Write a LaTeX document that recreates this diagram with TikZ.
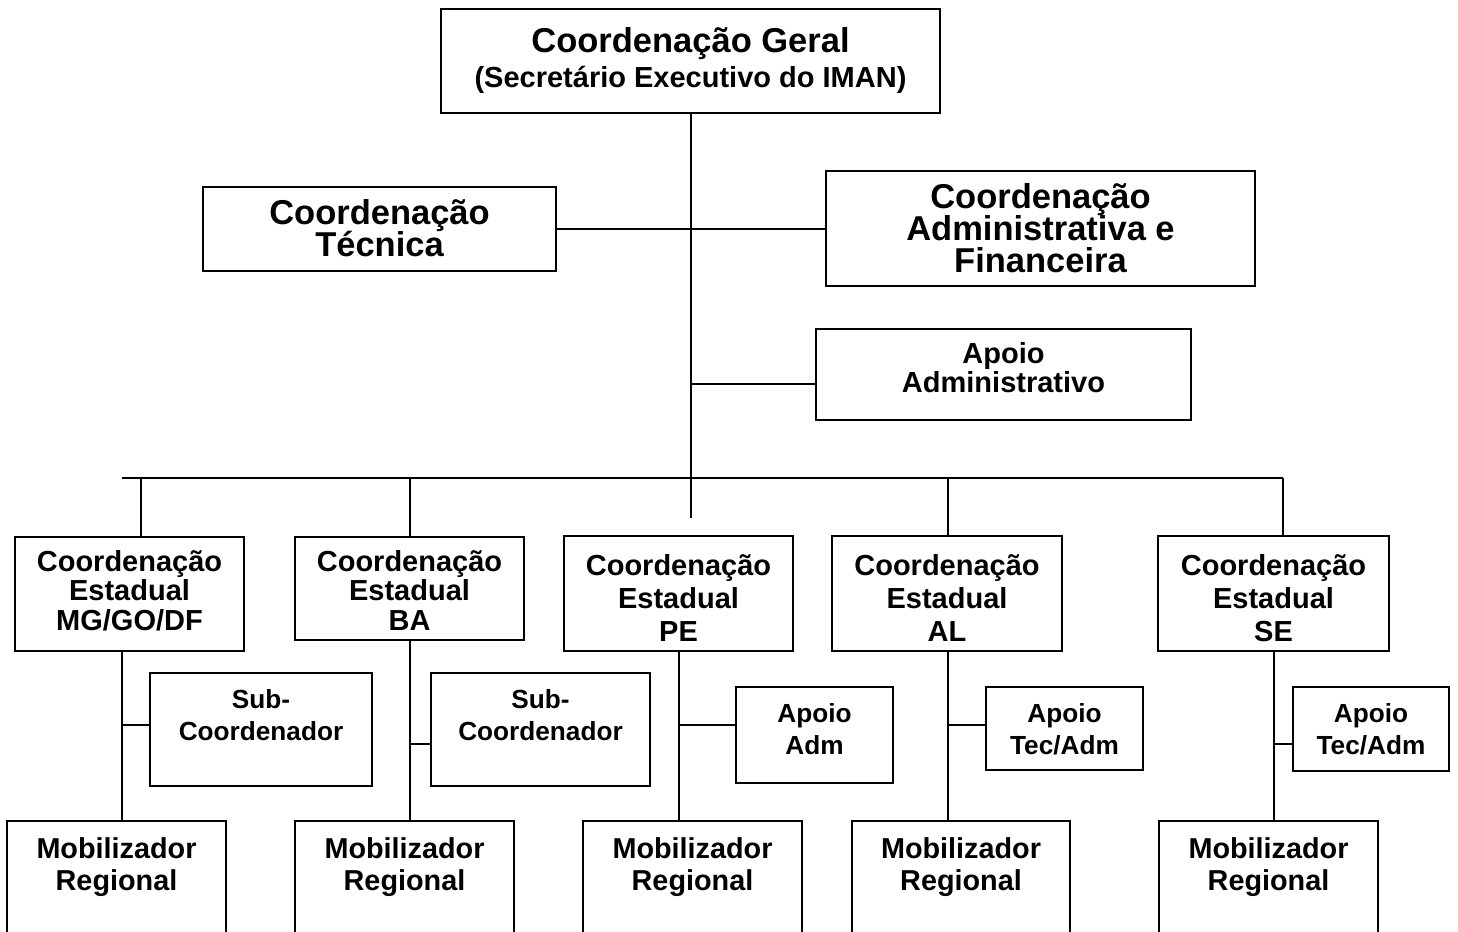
\documentclass[tikz,border=0pt]{standalone}
\usepackage{fontspec}
\setmainfont{Liberation Sans}
\begin{document}
\begin{tikzpicture}[x=1pt,y=-1pt,
  box/.style={draw=black,line width=2pt,inner sep=0pt,outer sep=0pt,rectangle},
  conn/.style={draw=black,line width=1.6pt},
  tl/.style={anchor=base,inner sep=0pt,text=black},
  fbig/.style={font={\fontsize{34.5}{40}\selectfont\bfseries}},
  fmid/.style={font={\fontsize{29}{34}\selectfont\bfseries}},
  fmob/.style={font={\fontsize{28.8}{34}\selectfont\bfseries}},
  fsml/.style={font={\fontsize{26.2}{30}\selectfont\bfseries}}]
\useasboundingbox (0,0) rectangle (1458,931);
\newcommand\mkbox[5]{\node[box,anchor=north west,minimum width={(#4-#2)*1pt},minimum height={(#5-#3)*1pt}] (#1) at (#2,#3) {};}
% boxes
\mkbox{top}{441}{9}{940}{113}
\mkbox{ct}{203}{187}{556}{271}
\mkbox{caf}{826}{171}{1255}{286}
\mkbox{aa}{816}{329}{1191}{420}
\mkbox{mg}{15}{537}{244}{651}
\mkbox{ba}{295}{537}{524}{640}
\mkbox{pe}{564}{536}{793}{651}
\mkbox{al}{832}{536}{1062}{651}
\mkbox{se}{1158}{536}{1389}{651}
\mkbox{sa}{150}{673}{372}{786}
\mkbox{sb}{431}{673}{650}{786}
\mkbox{apa}{736}{687}{893}{783}
\mkbox{apb}{986}{687}{1143}{770}
\mkbox{apc}{1293}{687}{1449}{771}
\mkbox{ma}{7}{821}{226}{945}
\mkbox{mb}{295}{821}{514}{945}
\mkbox{mc}{583}{821}{802}{945}
\mkbox{md}{852}{821}{1070}{945}
\mkbox{me}{1159}{821}{1378}{945}
% texts
\node[tl,fbig] (t1) at (690.5,53) {Coordenação Geral};
\node[tl,fmid] (t2) at (690.5,88) {(Secretário Executivo do IMAN)};
\node[tl,fbig] (ct1) at (379.5,224) {Coordenação};
\node[tl,fbig] (ct2) at (379.5,256) {Técnica};
\node[tl,fbig] (caf1) at (1040.5,208) {Coordenação};
\node[tl,fbig] (caf2) at (1040.5,240) {Administrativa e};
\node[tl,fbig] (caf3) at (1040.5,272) {Financeira};
\node[tl,fmid] (aa1) at (1003.5,363) {Apoio};
\node[tl,fmid] (aa2) at (1003.5,392) {Administrativo};
\node[tl,fmid] (mg1) at (129.5,571) {Coordenação};
\node[tl,fmid] (mg2) at (129.5,600) {Estadual};
\node[tl,fmid] (mg3) at (129.5,630) {MG/GO/DF};
\node[tl,fmid] (ba1) at (409.5,571) {Coordenação};
\node[tl,fmid] (ba2) at (409.5,600) {Estadual};
\node[tl,fmid] (ba3) at (409.5,630) {BA};
\node[tl,fmid] (pe1) at (678.5,575) {Coordenação};
\node[tl,fmid] (pe2) at (678.5,608) {Estadual};
\node[tl,fmid] (pe3) at (678.5,641) {PE};
\node[tl,fmid] (al1) at (947,575) {Coordenação};
\node[tl,fmid] (al2) at (947,608) {Estadual};
\node[tl,fmid] (al3) at (947,641) {AL};
\node[tl,fmid] (se1) at (1273.5,575) {Coordenação};
\node[tl,fmid] (se2) at (1273.5,608) {Estadual};
\node[tl,fmid] (se3) at (1273.5,641) {SE};
\node[tl,fsml] (sa1) at (261,708) {Sub-};
\node[tl,fsml] (sa2) at (261,740) {Coordenador};
\node[tl,fsml] (sb1) at (540.5,708) {Sub-};
\node[tl,fsml] (sb2) at (540.5,740) {Coordenador};
\node[tl,fsml] (apa1) at (814.5,722) {Apoio};
\node[tl,fsml] (apa2) at (814.5,754) {Adm};
\node[tl,fsml] (apb1) at (1064.5,722) {Apoio};
\node[tl,fsml] (apb2) at (1064.5,754) {Tec/Adm};
\node[tl,fsml] (apc1) at (1371,722) {Apoio};
\node[tl,fsml] (apc2) at (1371,754) {Tec/Adm};
\foreach \n/\x in {ma/116.5,mb/404.5,mc/692.5,md/961,me/1268.5}{
  \node[tl,fmob] (\n1) at (\x,858) {Mobilizador};
  \node[tl,fmob] (\n2) at (\x,890) {Regional};
}
% connectors
\coordinate (trunkend) at (691,518);
\coordinate (busl) at (122,478);
\coordinate (busr) at (1283,478);
\draw[conn] (top.south -| trunkend) -- (trunkend);
\draw[conn] (ct.east) -- (caf.west |- ct.east);
\draw[conn] (691,384) -- (aa.west |- 0,384);
\draw[conn] (busl) -- (busr);
\draw[conn] (141,478) -- (141,478 |- mg.north);
\draw[conn] (410,478) -- (410,478 |- ba.north);
\draw[conn] (948,478) -- (948,478 |- al.north);
\draw[conn] (busr) -- (busr |- se.north);
% lower verticals
\draw[conn] (122,0 |- mg.south) -- (122,0 |- ma.north);
\draw[conn] (122,725) -- (122,725 -| sa.west);
\draw[conn] (410,0 |- ba.south) -- (410,0 |- mb.north);
\draw[conn] (410,744) -- (410,744 -| sb.west);
\draw[conn] (679,0 |- pe.south) -- (679,0 |- mc.north);
\draw[conn] (679,725) -- (679,725 -| apa.west);
\draw[conn] (948,0 |- al.south) -- (948,0 |- md.north);
\draw[conn] (948,725) -- (948,725 -| apb.west);
\draw[conn] (1274,0 |- se.south) -- (1274,0 |- me.north);
\draw[conn] (1274,744) -- (1274,744 -| apc.west);
\end{tikzpicture}
\end{document}
